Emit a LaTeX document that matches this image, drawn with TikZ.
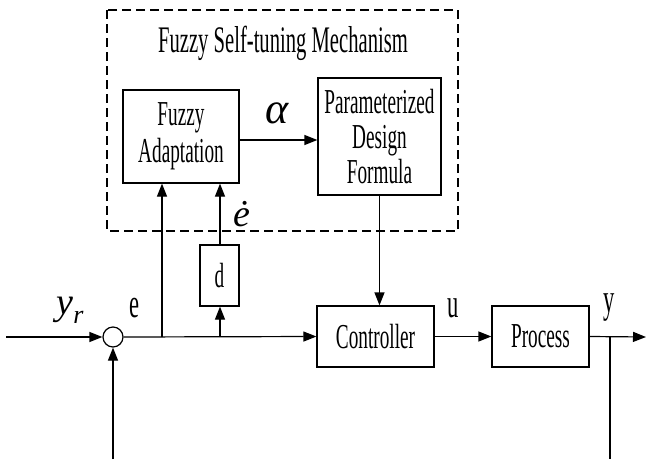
\documentclass[tikz,border=0pt]{standalone}
\usepackage{fontspec}
\setmainfont[FakeStretch=0.55]{Liberation Serif}
\newfontfamily\mitf{Liberation Serif}
\usetikzlibrary{arrows.meta}
\tikzset{
  blk/.style={draw, line width=1.2pt, minimum width=#1, inner sep=0pt, align=center, font=\fontsize{35}{37}\selectfont},
  arr/.style={line width=1.2pt, -{Triangle[length=13pt,width=10pt]}},
  ln/.style={line width=1.2pt},
  lbl/.style={font=\fontsize{41}{44}\selectfont, inner sep=0pt},
  mlbl/.style={font=\fontsize{38}{42}\mitf\itshape, inner sep=0pt}
}
\begin{document}
\begin{tikzpicture}[x=1pt,y=-1pt]
\useasboundingbox (0,0) rectangle (646,459);
\draw[line width=1.2pt, dash pattern=on 9pt off 5pt] (107,10) rectangle (458,231);
\node[font=\fontsize{37.5}{40}\selectfont] (title) at (283,43) {Fuzzy Self-tuning Mechanism};
\node[blk=116pt, minimum height=93pt, font=\fontsize{35}{37}\selectfont] (fa) at (181,136.5) {Fuzzy\\Adaptation};
\node[blk=123pt, minimum height=117pt, font=\fontsize{35}{35}\selectfont] (pdf) at (379.5,136.5) {Parameterized\\Design\\Formula};
\node[blk=39pt, minimum height=61pt] (d) at (219.5,275.5) {d};
\node[draw, circle, line width=1.2pt, minimum size=20pt, inner sep=0pt] (sum) at (113,337) {};
\node[blk=117pt, minimum height=61pt] (ctrl) at (375.5,336.5) {Controller};
\node[blk=97pt, minimum height=61pt] (proc) at (540.5,336.5) {Process};
\coordinate (in) at (6,337);
\coordinate (out) at (646,337);
\coordinate (br1) at (162,337);
\coordinate (br2) at (220,337);
\coordinate (br3) at (610,337);
\coordinate (fb1) at (610,459);
\coordinate (fb2) at (113,459);
\draw[arr] (in) -- (sum.west);
\draw[arr] (sum.east) -- (ctrl.west);
\draw[arr] (br1) -- (br1 |- fa.south);
\draw[arr] (br2) -- (br2 |- d.south);
\draw[arr] (br2 |- d.north) -- (br2 |- fa.south);
\draw[arr] (fa.east |- 0,140) -- (pdf.west |- 0,140);
\draw[arr] (pdf.south) -- (pdf.south |- ctrl.north);
\draw[arr] (ctrl.east) -- (proc.west);
\draw[arr] (proc.east) -- (out);
\draw[ln] (br3) -- (fb1);
\draw[arr] (fb2) -- (sum.south);
\node[mlbl, font=\fontsize{44}{46}\mitf\itshape] (alpha) at (277,113) {α};
\node[mlbl] (edot) at (242,214) {ė};
\node[mlbl] (yr) at (70,310) {y\raisebox{-9pt}{\fontsize{26}{28}\mitf\itshape r}};
\node[lbl] (e) at (135,308) {e};
\node[lbl] (u) at (453,308) {u};
\node[lbl] (y) at (609,308) {y};
\end{tikzpicture}
\end{document}
